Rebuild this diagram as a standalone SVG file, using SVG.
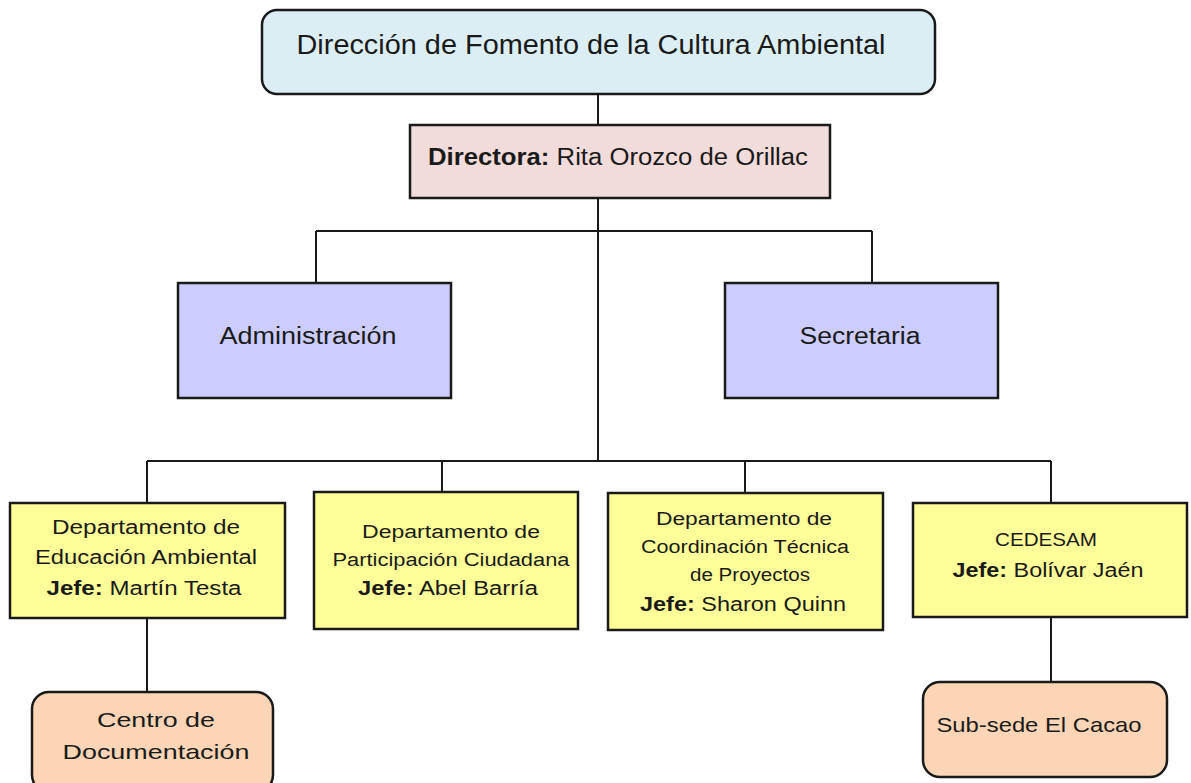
<svg xmlns="http://www.w3.org/2000/svg" width="1191" height="783" viewBox="0 0 1191 783">
<style>
.b{stroke:#1a1a1a;stroke-width:2.5}
.t{font-family:"Liberation Sans",Arial,sans-serif;fill:#1a1a1a;text-anchor:middle}
.c{stroke:#1a1a1a;stroke-width:2;fill:none}
</style>
<rect width="1191" height="783" fill="#ffffff"/>
<g id="connectors">
<path class="c" d="M598 94V125M598 198V461M316 231H872M316 231V283M872 231V283M147 461H1051M147 461V503M442 461V492M745 461V493M1051 461V503M147 618V692M1051 617V682"/>
</g>
<g id="n_top">
<rect class="b" x="262" y="10" width="673" height="84" rx="15" fill="#DAEEF3"/>
<text class="t" x="591" y="54" font-size="27" textLength="589" lengthAdjust="spacingAndGlyphs">Dirección de Fomento de la Cultura  Ambiental</text>
</g>
<g id="n_directora">
<rect class="b" x="410" y="125" width="420" height="73" fill="#F2DCDB"/>
<text class="t" x="618" y="165" font-size="23" textLength="380" lengthAdjust="spacingAndGlyphs"><tspan font-weight="bold">Directora:</tspan> Rita Orozco de Orillac</text>
</g>
<g id="n_admin">
<rect class="b" x="178" y="283" width="273" height="115" fill="#CCCCFF"/>
<text class="t" x="308" y="344" font-size="23" textLength="177" lengthAdjust="spacingAndGlyphs">Administración</text>
</g>
<g id="n_secretaria">
<rect class="b" x="725" y="283" width="273" height="115" fill="#CCCCFF"/>
<text class="t" x="860" y="344" font-size="23" textLength="121" lengthAdjust="spacingAndGlyphs">Secretaria</text>
</g>
<g id="n_educ">
<rect class="b" x="10" y="503" width="275" height="115" fill="#FFFF99"/>
<text class="t" x="146" y="534" font-size="20" textLength="188" lengthAdjust="spacingAndGlyphs">Departamento de</text>
<text class="t" x="146" y="564" font-size="20" textLength="222" lengthAdjust="spacingAndGlyphs">Educación  Ambiental</text>
<text class="t" x="144" y="595" font-size="20" textLength="195" lengthAdjust="spacingAndGlyphs"><tspan font-weight="bold">Jefe:</tspan>  Martín Testa</text>
</g>
<g id="n_partic">
<rect class="b" x="314" y="492" width="264" height="137" fill="#FFFF99"/>
<text class="t" x="451" y="538" font-size="18" textLength="178" lengthAdjust="spacingAndGlyphs">Departamento de</text>
<text class="t" x="451" y="566" font-size="18" textLength="237" lengthAdjust="spacingAndGlyphs">Participación Ciudadana</text>
<text class="t" x="448" y="595" font-size="20" textLength="180" lengthAdjust="spacingAndGlyphs"><tspan font-weight="bold">Jefe:</tspan>  Abel Barría</text>
</g>
<g id="n_coord">
<rect class="b" x="608" y="493" width="275" height="137" fill="#FFFF99"/>
<text class="t" x="744" y="525" font-size="18" textLength="176" lengthAdjust="spacingAndGlyphs">Departamento de</text>
<text class="t" x="745" y="553" font-size="18" textLength="208" lengthAdjust="spacingAndGlyphs">Coordinación Técnica</text>
<text class="t" x="750" y="581" font-size="18" textLength="120" lengthAdjust="spacingAndGlyphs">de Proyectos</text>
<text class="t" x="743" y="611" font-size="20" textLength="206" lengthAdjust="spacingAndGlyphs"><tspan font-weight="bold">Jefe:</tspan>  Sharon Quinn</text>
</g>
<g id="n_cedesam">
<rect class="b" x="913" y="503" width="274" height="114" fill="#FFFF99"/>
<text class="t" x="1046" y="546" font-size="19" textLength="102" lengthAdjust="spacingAndGlyphs">CEDESAM</text>
<text class="t" x="1048" y="577" font-size="20" textLength="191" lengthAdjust="spacingAndGlyphs"><tspan font-weight="bold">Jefe:</tspan>  Bolívar Jaén</text>
</g>
<g id="n_centro">
<rect class="b" x="32" y="692" width="241" height="100" rx="17" fill="#FBD5B5"/>
<text class="t" x="156" y="727" font-size="21" textLength="118" lengthAdjust="spacingAndGlyphs">Centro de</text>
<text class="t" x="156" y="759" font-size="21" textLength="187" lengthAdjust="spacingAndGlyphs">Documentación</text>
</g>
<g id="n_subsede">
<rect class="b" x="923" y="682" width="244" height="95" rx="17" fill="#FBD5B5"/>
<text class="t" x="1039" y="732" font-size="21" textLength="205" lengthAdjust="spacingAndGlyphs">Sub-sede El Cacao</text>
</g>
</svg>
